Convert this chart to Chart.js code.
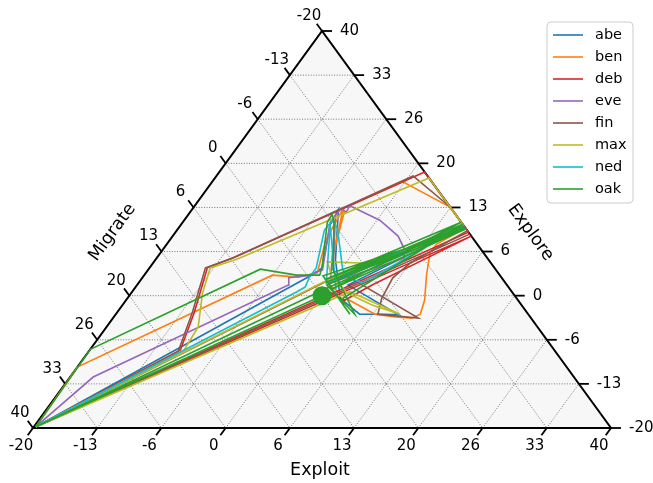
<!DOCTYPE html>
<html><head><meta charset="utf-8">
<script src="https://cdn.jsdelivr.net/npm/chart.js@4/dist/chart.umd.min.js"></script>
<style>html,body{margin:0;padding:0;background:#fff;}canvas{display:block;}</style>
</head><body>
<canvas id="c" width="653" height="483"></canvas>
<script>
// ---- data: points are ternary [Exploit, Explore, Migrate] (sum = 0) ----
const seriesNames = ['abe','ben','deb','eve','fin','max','ned','oak'];
const seriesColors = ['#1f77b4','#ff7f0e','#d62728','#9467bd','#8c564b','#bcbd22','#17becf','#2ca02c'];
const tickValues = [-20,-13.33,-6.67,0,6.67,13.33,20,26.67,33.33,40];
const tickLabels = ['-20','-13','-6','0','6','13','20','26','33','40'];
const axisTitles = ['Exploit','Explore','Migrate'];

const abe = [[-19.8,-19.8,39.6],[-2.7,3.0,-0.3],[-2.1,4.2,-2.1],[-4.5,10.7,-6.2],[-4.8,13.0,-8.2],[-1.3,5.4,-4.1],[2.1,-0.4,-1.7],[5.3,-2.8,-2.5],[7.9,-2.8,-5.1],[9.4,-2.9,-6.5],[1.9,1.6,-3.5],[9.6,10.4,-20],[-0.3,1.9,-1.6],[9.9,10.1,-20],[-0.4,2.4,-2.0]];
const ben = [[-19.8,-19.8,39.6],[-20,-10.8,30.8],[-6.7,3.1,3.6],[-3.9,2.8,1.1],[-2.2,3.4,-1.2],[-3.8,8.4,-4.6],[-4.4,13.2,-8.8],[-4.0,12.6,-8.6],[-1.9,6.1,-4.2],[-4.4,13.2,-8.8],[-0.2,17.2,-17.0],[6.6,13.4,-20],[9.8,10.2,-20],[8.0,7.8,-15.8],[8.0,6.4,-14.4],[9.3,3.1,-12.4],[11.0,-0.7,-10.3],[11.6,-2.8,-8.8],[11.0,-3.4,-7.6],[9.2,-3.2,-6.0],[6.9,-2.8,-4.1],[3.2,-0.7,-2.5],[0.0,1.6,-1.6]];
const deb = [[-19.8,-19.8,39.6],[-10.6,-8.2,18.8],[-12.0,-2.5,14.5],[-14.0,4.2,9.8],[-12.0,5.8,6.2],[1.3,18.7,-20],[10.4,9.6,-20],[-19.8,-19.8,39.6],[11.0,9.0,-20],[4.4,1.6,-6.0],[2.7,-0.7,-2.0],[-0.1,0.9,-0.8]];
const eve = [[-19.8,-19.8,39.6],[-17.6,-12.3,29.9],[-4.3,1.6,2.7],[-4.8,2.7,2.1],[-3.1,3.0,0.1],[-1.9,3.9,-2.0],[-4.7,11.1,-6.4],[-4.6,13.2,-8.6],[-3.8,12.6,-8.8],[-3.9,13.6,-9.7],[0.3,11.4,-11.7],[3.4,9.0,-12.4],[4.9,7.2,-12.1],[5.7,5.7,-11.4],[-0.1,1.9,-1.8],[-4.7,12.2,-7.5],[-0.8,3.9,-3.1]];
const fin = [[-19.8,-19.8,39.6],[-10.7,-8.5,19.2],[-12.2,-2.5,14.7],[-14.2,4.2,10.0],[-12.1,5.7,6.4],[0.4,18.1,-18.5],[6.6,13.4,-20],[10.2,9.8,-20],[8.5,7.5,-16.0],[6.7,4.9,-11.6],[6.0,2.7,-8.7],[6.4,-0.4,-6.0],[7.2,-2.8,-4.4],[11.7,-3.4,-8.3],[0.4,3.4,-3.8],[-19.8,-19.8,39.6],[10.7,9.3,-20]];
const max = [[-19.8,-19.8,39.6],[-10.2,-8.2,18.4],[-10.5,-4.7,15.2],[-12.6,0.4,12.2],[-13.7,4.2,9.5],[-11.6,5.5,6.1],[2.2,17.8,-20],[9.2,10.8,-20],[6.5,7.4,-13.9],[3.3,5.8,-9.1],[2.3,4.9,-7.2],[-2.0,5.1,-3.1],[-0.5,3.0,-2.5],[2.4,0.4,-2.8],[5.9,-1.4,-4.5],[9.5,-2.8,-6.7],[2.6,0.6,-3.2],[-19.8,-19.8,39.6],[-1.0,1.9,-0.9],[9.4,10.6,-20],[-0.4,2.2,-1.8]];
const ned = [[-19.8,-19.8,39.6],[-2.9,0.6,2.3],[-2.4,1.3,1.1],[-2.7,2.8,-0.1],[-2.7,4.2,-1.5],[-4.7,9.9,-5.2],[-4.6,11.4,-6.8],[-3.5,10.2,-6.7],[0.2,3.9,-4.1],[1.9,2.5,-4.4],[3.2,1.9,-5.1],[9.4,10.6,-20],[-0.5,1.9,-1.4],[-4.5,10.7,-6.2],[1.0,0.9,-1.9]];
const oak = [[-19.8,-19.8,39.6],[-20,-8.1,28.1],[-8.4,4.0,4.4],[-4.2,3.1,1.1],[-1.8,3.1,-1.3],[-2.1,4.2,-2.1],[-5.0,11.1,-6.1],[-5.1,12.3,-7.2],[-4.3,11.1,-6.8],[-0.8,3.9,-3.1],[4.8,-2.8,-2.0],[-0.3,1.6,-1.3],[9.5,10.5,-20],[-0.9,2.4,-1.5],[8.9,11.1,-20],[0.4,0.9,-1.3],[9.9,10.1,-20],[-1.4,3.0,-1.6],[4.3,-2.8,-1.5],[2.2,-0.7,-1.5],[9.2,10.8,-20],[-0.6,2.0,-1.4],[9.7,10.3,-20],[0.0,1.2,-1.2],[-19.8,-19.8,39.6],[0.0,0.0,0.0]];
const oakMarker = [[0.0,0.0,0.0]];

// ---- ternary -> cartesian (library scales map these to pixels) ----
function tern(p){ const wR=(p[0]+20)/60, wT=(p[1]+20)/60; return {x: wR + wT/2, y: wT}; }

const seriesData = [abe, ben, deb, eve, fin, max, ned, oak];
const FONT = 'DejaVu Sans';

const framePlugin = {
  id:'ternFrame',
  beforeDatasetsDraw(chart){
    const ctx = chart.ctx, xs = chart.scales.x, ys = chart.scales.y;
    const P = (a,b) => { const q = tern([a,b,-a-b]); return [xs.getPixelForValue(q.x), ys.getPixelForValue(q.y)]; };
    const BL = P(-20,-20), BR = P(40,-20), T = P(-20,40);
    ctx.save();
    ctx.beginPath(); ctx.moveTo(...BL); ctx.lineTo(...BR); ctx.lineTo(...T); ctx.closePath();
    ctx.fillStyle = '#f7f7f7'; ctx.fill();
    ctx.strokeStyle = '#555'; ctx.lineWidth = 0.8; ctx.setLineDash([1,1.6]);
    for (let k=1;k<tickValues.length-1;k++){
      const v = tickValues[k];
      const segs = [[P(-20,v),P(20-v,v)],[P(v,-20),P(v,20-v)],[P(-20,20-v),P(20-v,-20)]];
      for (const s of segs){ ctx.beginPath(); ctx.moveTo(...s[0]); ctx.lineTo(...s[1]); ctx.stroke(); }
    }
    ctx.setLineDash([]);
    ctx.strokeStyle = '#000'; ctx.lineWidth = 2; ctx.lineJoin='miter';
    ctx.beginPath(); ctx.moveTo(...BL); ctx.lineTo(...BR); ctx.lineTo(...T); ctx.closePath(); ctx.stroke();
    const norm = (dx,dy)=>{const L=Math.hypot(dx,dy);return [dx/L,dy/L];};
    const dLeft = norm(T[0]-BR[0], T[1]-BR[1]);
    const dBot = norm(BL[0]-T[0], BL[1]-T[1]);
    const tl = 9;
    ctx.lineWidth = 1.8;
    ctx.fillStyle = '#000';
    ctx.font = '15px "'+FONT+'"';
    for (let k=0;k<tickValues.length;k++){
      const v = tickValues[k];
      let p = P(v,-20);
      ctx.beginPath(); ctx.moveTo(...p); ctx.lineTo(p[0]+dBot[0]*tl, p[1]+dBot[1]*tl); ctx.stroke();
      ctx.textAlign='center'; ctx.textBaseline='middle';
      ctx.fillText(tickLabels[k], p[0]-12, p[1]+18);
      p = P(20-v, v);
      ctx.beginPath(); ctx.moveTo(...p); ctx.lineTo(p[0]+tl+1, p[1]); ctx.stroke();
      ctx.textAlign='left';
      ctx.fillText(tickLabels[k], p[0]+18, p[1]);
      p = P(-20, 20-v);
      ctx.beginPath(); ctx.moveTo(...p); ctx.lineTo(p[0]+dLeft[0]*tl, p[1]+dLeft[1]*tl); ctx.stroke();
      ctx.textAlign='center';
      ctx.fillText(tickLabels[k], p[0]-13, p[1]-15);
    }
    const ang = Math.atan2(BR[1]-T[1], BR[0]-T[0]);
    ctx.font = '17.5px "'+FONT+'"'; ctx.textAlign='center'; ctx.textBaseline='middle';
    ctx.fillText(axisTitles[0], (BL[0]+BR[0])/2 - 2, BL[1]+42);
    const rm = [(T[0]+BR[0])/2, (T[1]+BR[1])/2];
    ctx.save(); ctx.translate(rm[0]+64, rm[1]+3); ctx.rotate(ang); ctx.fillText(axisTitles[1],0,0); ctx.restore();
    const lm = [(T[0]+BL[0])/2, (T[1]+BL[1])/2];
    ctx.save(); ctx.translate(lm[0]-65, lm[1]+3); ctx.rotate(-ang); ctx.fillText(axisTitles[2],0,0); ctx.restore();
    ctx.restore();
  },
  afterDraw(chart){
    const ctx = chart.ctx;
    ctx.save();
    const bx=547, by=22, bw=86, bh=181, r=4;
    ctx.beginPath();
    ctx.moveTo(bx+r,by); ctx.lineTo(bx+bw-r,by); ctx.quadraticCurveTo(bx+bw,by,bx+bw,by+r);
    ctx.lineTo(bx+bw,by+bh-r); ctx.quadraticCurveTo(bx+bw,by+bh,bx+bw-r,by+bh);
    ctx.lineTo(bx+r,by+bh); ctx.quadraticCurveTo(bx,by+bh,bx,by+bh-r);
    ctx.lineTo(bx,by+r); ctx.quadraticCurveTo(bx,by,bx+r,by); ctx.closePath();
    ctx.fillStyle='rgba(255,255,255,0.8)'; ctx.fill();
    ctx.strokeStyle='#cccccc'; ctx.lineWidth=1; ctx.stroke();
    ctx.font='14.5px "'+FONT+'"'; ctx.textAlign='left'; ctx.textBaseline='middle';
    seriesNames.forEach((n,i)=>{
      const y = by+13+i*22;
      ctx.strokeStyle=seriesColors[i]; ctx.lineWidth=1.6;
      ctx.beginPath(); ctx.moveTo(bx+6,y); ctx.lineTo(bx+36,y); ctx.stroke();
      ctx.fillStyle='#000'; ctx.fillText(n, bx+48, y);
    });
    ctx.restore();
  }
};

const datasets = seriesData.map((d,i)=>({
  label: seriesNames[i], data: d.map(tern), borderColor: seriesColors[i], backgroundColor: seriesColors[i],
  showLine: true, pointRadius: 0, borderWidth: 1.6, tension: 0, fill: false, clip: false, order: seriesData.length - i
}));
datasets.push({label:'oak start', data: oakMarker.map(tern), showLine:false, pointRadius:9.5, pointHoverRadius:9.5,
  backgroundColor: seriesColors[7], borderWidth:0, clip:false, order:-1});

new Chart(document.getElementById('c'), {
  type:'scatter',
  data:{datasets},
  options:{
    responsive:false, animation:false, devicePixelRatio:1,
    layout:{padding:{left:33,right:42,top:31,bottom:55}},
    scales:{x:{type:'linear',min:0,max:1,display:false},y:{type:'linear',min:0,max:1,display:false}},
    plugins:{legend:{display:false},tooltip:{enabled:false}},
    events:[]
  },
  plugins:[framePlugin]
});
</script>
</body></html>
